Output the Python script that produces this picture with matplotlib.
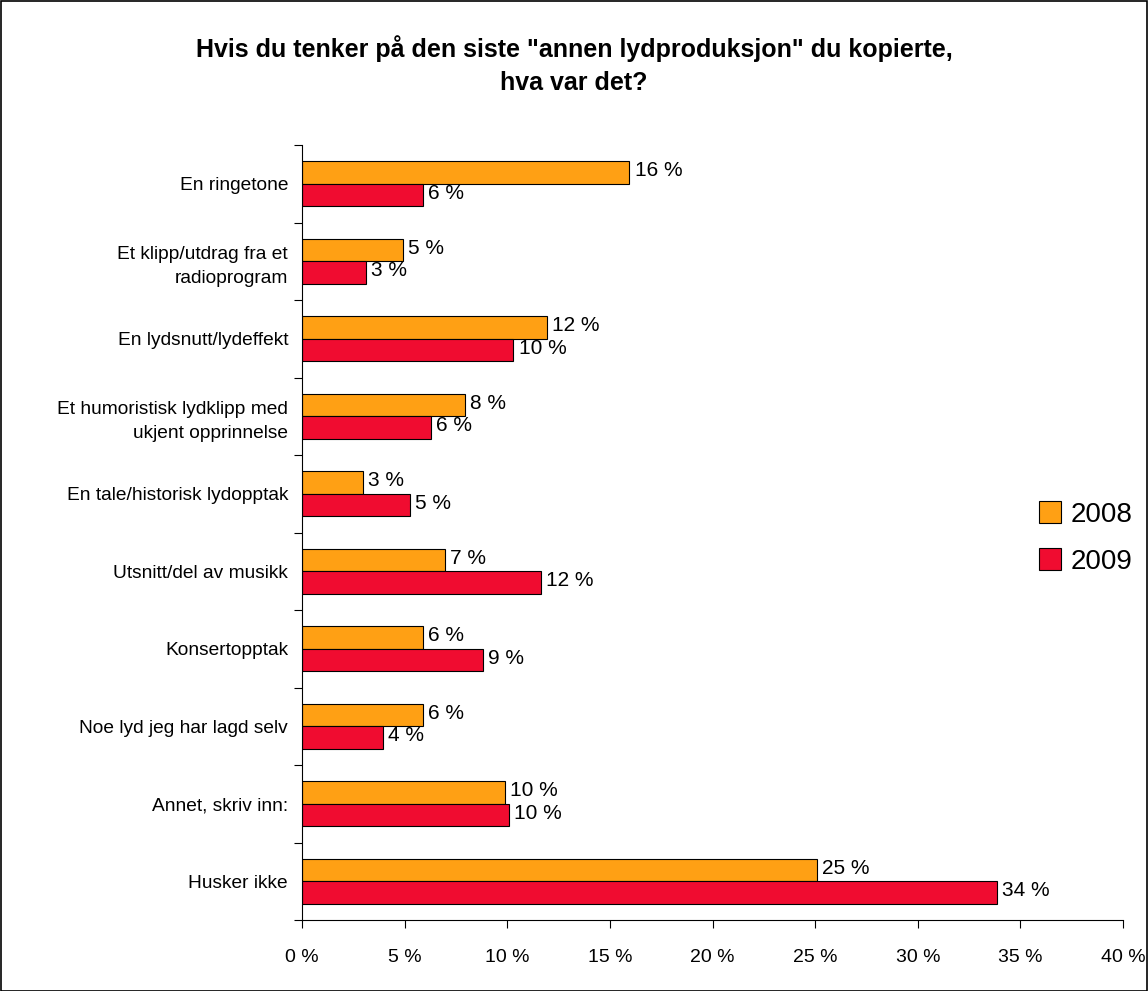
import matplotlib
matplotlib.use("Agg")
import matplotlib.pyplot as plt
from matplotlib.patches import Rectangle
import numpy as np

plt.rcParams['font.family'] = ['Liberation Sans', 'DejaVu Sans']

categories = [
    "En ringetone",
    "Et klipp/utdrag fra et\nradioprogram",
    "En lydsnutt/lydeffekt",
    "Et humoristisk lydklipp med\nukjent opprinnelse",
    "En tale/historisk lydopptak",
    "Utsnitt/del av musikk",
    "Konsertopptak",
    "Noe lyd jeg har lagd selv",
    "Annet, skriv inn:",
    "Husker ikke",
]
values_2008 = [15.95, 4.9, 11.95, 7.95, 2.98, 6.98, 5.9, 5.9, 9.9, 25.07]
values_2009 = [5.9, 3.1, 10.3, 6.3, 5.27, 11.66, 8.83, 3.95, 10.1, 33.85]
series_names = ["2008", "2009"]
colors = ["#FFA014", "#F00C30"]
xticks = [0, 5, 10, 15, 20, 25, 30, 35, 40]

W, H = 1148, 991
fig = plt.figure(figsize=(W / 100, H / 100), dpi=100)
fig.patches.append(Rectangle((0.5 / W, 0.5 / H), 1 - 1.5 / W, 1 - 1.5 / H,
                             transform=fig.transFigure, fill=False,
                             edgecolor="black", linewidth=1.2))

ax = fig.add_axes([302 / W, 1 - 920 / H, (1123 - 302) / W, (920 - 145) / H])

n = len(categories)
y = np.arange(n)
bh = 0.29
b1 = ax.barh(y - bh / 2, values_2008, height=bh, color=colors[0],
             edgecolor="black", linewidth=0.8, label=series_names[0])
b2 = ax.barh(y + bh / 2, values_2009, height=bh, color=colors[1],
             edgecolor="black", linewidth=0.8, label=series_names[1])

for bars, vals in ((b1, values_2008), (b2, values_2009)):
    for rect, v in zip(bars, vals):
        ax.text(v + 0.25, rect.get_y() + rect.get_height() / 2 - 0.02,
                f"{round(v):d} %", va="center", ha="left", fontsize=15)

ax.set_xlim(0, 40)
ax.set_ylim(n - 0.5, -0.5)
ax.set_xticks(xticks)
ax.set_xticklabels([f"{t} %" for t in xticks], fontsize=14)
ax.set_yticks(y)
ax.set_yticklabels(categories, fontsize=13.8, linespacing=1.5)
ax.tick_params(axis="y", length=0, pad=10)
ax.set_yticks(np.arange(n + 1) - 0.5, minor=True)
ax.tick_params(axis="y", which="minor", length=6, width=0.8, direction="out")
ax.tick_params(axis="x", length=6, width=0.8, direction="out", pad=15)

for s in ["top", "right"]:
    ax.spines[s].set_visible(False)
ax.spines["left"].set_linewidth(0.8)
ax.spines["bottom"].set_linewidth(0.8)

fig.text(0.5, 1 - 65 / H, 'Hvis du tenker på den siste "annen lydproduksjon" du kopierte,\nhva var det?',
         ha="center", va="center", fontsize=18, fontweight="bold", linespacing=1.5)

leg = fig.legend(handles=[b1, b2], labels=series_names, loc="center left",
                 bbox_to_anchor=(1028 / W, 1 - 538 / H), frameon=False,
                 fontsize=20, handlelength=0.8, handleheight=0.8,
                 handletextpad=0.35, labelspacing=0.75, borderaxespad=0)

fig.savefig("out.png", dpi=100)
